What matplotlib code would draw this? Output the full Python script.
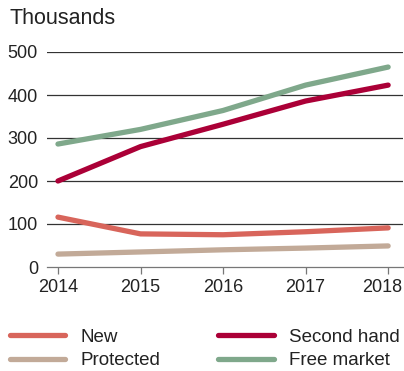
import matplotlib.pyplot as plt
import matplotlib.transforms as mtransforms

# Data (thousands)
years = [2014, 2015, 2016, 2017, 2018]
new = [116, 77, 75, 82, 91]
second_hand = [200, 280, 332, 386, 423]
protected = [30, 35, 40, 44, 49]
free_market = [286, 320, 364, 423, 465]

series_names = ["New", "Protected", "Second hand", "Free market"]
series_values = [new, protected, second_hand, free_market]
colors = ["#d8655b", "#c2aa98", "#ab0037", "#7fa88b"]
y_ticks = [0, 100, 200, 300, 400, 500]

plt.rcParams['font.family'] = ['Liberation Sans', 'DejaVu Sans']

fig = plt.figure(figsize=(4.04, 3.71), dpi=100)
ax = fig.add_axes([47 / 404, 1 - 267 / 371, 356 / 404, (267 - 52) / 371])

# grid lines
for y in y_ticks[1:]:
    ax.axhline(y, color="#333333", lw=0.9, zorder=1)

for name, vals, c in zip(series_names, series_values, colors):
    ax.plot(years, vals, color=c, lw=3.8, solid_capstyle="round",
            solid_joinstyle="round", label=name, zorder=3)

ax.set_xlim(2013.867, 2018.18)
ax.set_ylim(0, 500)
ax.set_xticks(years)
ax.set_yticks(y_ticks)
ax.tick_params(axis="x", length=5, width=0.9, color="#777777", direction="out",
               labelsize=13, labelcolor="#222222", pad=4)
ax.tick_params(axis="y", length=0, labelsize=13, labelcolor="#222222", pad=6.5)
for lab in ax.get_yticklabels():
    lab.set_verticalalignment("center_baseline")

# keep the last year label inside the figure
last = ax.get_xticklabels()[-1]
last.set_transform(last.get_transform() +
                   mtransforms.ScaledTranslation(-6 / 100, 0, fig.dpi_scale_trans))

for s in ["top", "right", "left"]:
    ax.spines[s].set_visible(False)
ax.spines["bottom"].set_color("#777777")
ax.spines["bottom"].set_linewidth(0.9)

fig.text(10 / 404, 1 - 18 / 371, "Thousands", fontsize=15.5, color="#222222",
         va="center", ha="left")

handles, labels = ax.get_legend_handles_labels()
fig.legend(handles, labels, ncol=2, loc="center left",
           bbox_to_anchor=(10 / 404, 1 - 349 / 371), frameon=False,
           fontsize=13.5, handlelength=2.95, handletextpad=0.8,
           columnspacing=3.1, labelspacing=0.35, labelcolor="#222222",
           borderpad=0, borderaxespad=0)

fig.savefig("out.png", dpi=100)
